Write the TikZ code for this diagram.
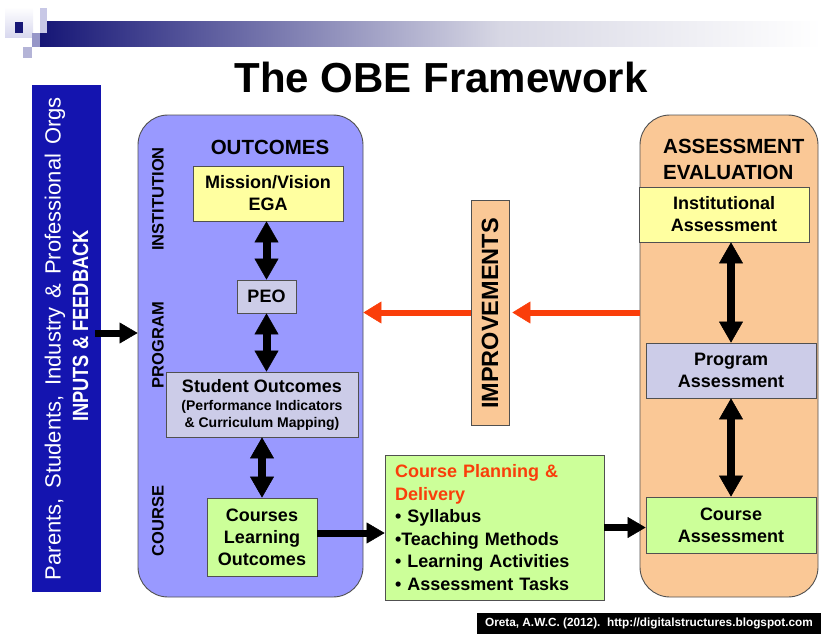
\documentclass[tikz,border=0pt]{standalone}
\usepackage{fontspec}
\usepackage{graphicx}
\setmainfont{Liberation Sans}
\usetikzlibrary{arrows.meta,calc}
\definecolor{barblue}{RGB}{20,20,175}
\definecolor{outclav}{RGB}{153,153,255}
\definecolor{boxyellow}{RGB}{255,255,160}
\definecolor{boxlav}{RGB}{204,204,232}
\definecolor{boxgreen}{RGB}{204,255,153}
\definecolor{peach}{RGB}{250,200,150}
\definecolor{obered}{RGB}{250,62,10}
\definecolor{navy}{RGB}{22,22,118}
\definecolor{barmid}{RGB}{215,215,228}
\definecolor{edgegray}{RGB}{80,80,80}
\definecolor{sqlight}{RGB}{215,215,238}
\definecolor{sqa}{RGB}{200,200,230}
\definecolor{sqb}{RGB}{150,150,200}
\definecolor{sqc}{RGB}{180,180,215}
\newcommand{\myfs}[2]{\fontsize{#1}{#2}\selectfont}
\begin{document}
\begin{tikzpicture}[x=1pt,y=-1pt,
  box/.style={draw=edgegray, line width=0.8pt, inner sep=0pt, align=center, font=\myfs{18}{22}\bfseries},
  bigbox/.style={draw=edgegray, line width=0.9pt, rounded corners=30pt, inner sep=0pt},
  sidelabel/.style={rotate=90, font=\myfs{16.5}{20}\bfseries, inner sep=0pt},
  dblarrow/.style={line width=8pt, {Triangle[width=24pt,length=21pt,line width=0.5pt]}-{Triangle[width=24pt,length=21pt,line width=0.5pt]}},
  blkarrow/.style={line width=7pt, -{Triangle[width=21pt,length=18pt,line width=0.5pt]}},
  redarrow/.style={draw=obered, line width=6pt, -{Triangle[width=22pt,length=18pt,line width=0.5pt]}}
]
\useasboundingbox (0,0) rectangle (821,634);

% header decoration
\shade[left color=navy, right color=barmid] (40,22) rectangle (500,47);
\shade[left color=barmid, right color=white] (500,22) rectangle (821,47);
\shade[top color=white, bottom color=sqlight] (5,7) rectangle (33,38);
\fill[navy] (15,22) rectangle (23,33);
\fill[sqa] (40,8) rectangle (47,33);
\fill[sqb] (32,33) rectangle (40,47);
\fill[sqc] (23,47) rectangle (32,58);

\node[font=\myfs{42}{50}\bfseries, inner sep=0pt] (title) at (441,77) {The OBE Framework};

% inputs bar
\node[fill=barblue, minimum width=69pt, minimum height=507pt, inner sep=0pt] (bluebar) at (66.5,338.5) {};
\node[rotate=90, text=white, font=\myfs{22}{26}, inner sep=0pt] (inl1) at (55,338.5)
  {\makebox[483pt][s]{Parents, Students, Industry \& Professional Orgs}};
\node[rotate=90, text=white, font=\myfs{22}{26}\bfseries, inner sep=0pt] (inl2) at (80.5,326)
  {\scalebox{0.83}[1]{INPUTS \& FEEDBACK}};

% big containers
\node[bigbox, fill=outclav, minimum width=225pt, minimum height=482pt] (outc) at (250.5,356) {};
\node[bigbox, fill=peach, minimum width=178pt, minimum height=482pt] (assess) at (729,356) {};

% outcomes content
\node[font=\myfs{20.5}{24}\bfseries, inner sep=0pt] (outtitle) at (270,147) {OUTCOMES};
\node[sidelabel] (lblinst) at (158,199) {INSTITUTION};
\node[sidelabel] (lblprog) at (158,345) {PROGRAM};
\node[sidelabel] (lblcourse) at (158,521) {COURSE};

\node[box, fill=boxyellow, minimum width=150pt, minimum height=55pt] (mission) at (268,193.5) {Mission/Vision\\EGA};
\node[box, fill=boxlav, minimum width=59pt, minimum height=33pt] (peo) at (266.5,296.5) {PEO};
\node[box, fill=boxlav, minimum width=192pt, minimum height=65pt] (so) at (262,404.5)
  {Student Outcomes\\[-4pt]{\myfs{14}{16}\bfseries (Performance Indicators}\\[-5pt]{\myfs{14}{16}\bfseries \& Curriculum Mapping)}};
\node[box, fill=boxgreen, minimum width=110pt, minimum height=78pt] (clo) at (262,537) {Courses\\Learning\\Outcomes};

% improvements
\node[box, fill=peach, minimum width=38pt, minimum height=225pt] (impr) at (490,312.5) {};
\node[rotate=90, font=\myfs{23.5}{28}\bfseries, inner sep=0pt] (imprtext) at (490,313.5) {IMPROVEMENTS};

% course planning
\node[box, fill=boxgreen, minimum width=219pt, minimum height=145pt, text width=199pt, inner xsep=10pt, align=left, font=\myfs{18}{22.5}\bfseries] (cpd) at (494.5,527.5)
  {\textcolor{obered}{Course Planning \&\\Delivery}\\• Syllabus\\•Teaching Methods\\• Learning Activities\\• Assessment Tasks};

% assessment content
\node[anchor=west, align=left, font=\myfs{20.5}{26}\bfseries, inner sep=0pt] (asstitle) at (663,159) {ASSESSMENT\\EVALUATION};
\node[box, fill=boxyellow, minimum width=170pt, minimum height=55pt] (inst) at (724,214.5) {Institutional\\Assessment};
\node[box, fill=boxlav, minimum width=170pt, minimum height=55pt] (prog) at (731,370.5) {Program\\Assessment};
\node[box, fill=boxgreen, minimum width=170pt, minimum height=56pt] (ca) at (731,525) {Course\\Assessment};

% credit
\node[fill=black, text=white, minimum width=344pt, minimum height=21pt, inner sep=0pt, font=\myfs{11.8}{14}\bfseries] (credit) at (649,623.5)
  {Oreta, A.W.C. (2012).\ \ http://digitalstructures.blogspot.com};

% connectors
\coordinate (inY) at (0,333);
\coordinate (cloY) at (0,533);
\draw[blkarrow] ($(bluebar.east |- inY)+(-6,0)$) -- (outc.west |- inY);
\draw[dblarrow] (peo.north |- mission.south) -- (peo.north);
\draw[dblarrow] (peo.south) -- (peo.south |- so.north);
\draw[dblarrow] (clo.north |- so.south) -- (clo.north);
\draw[blkarrow] (clo.east |- cloY) -- (cpd.west |- cloY);
\draw[blkarrow] (cpd.east) -- (cpd.east -| ca.west);
\draw[dblarrow] (prog.north |- inst.south) -- (prog.north);
\draw[dblarrow] (prog.south) -- (prog.south |- ca.north);
\draw[redarrow] (impr.east -| assess.west) -- ($(impr.east)+(3,0)$);
\draw[redarrow] (impr.west) -- (impr.west -| outc.east);
\end{tikzpicture}
\end{document}
